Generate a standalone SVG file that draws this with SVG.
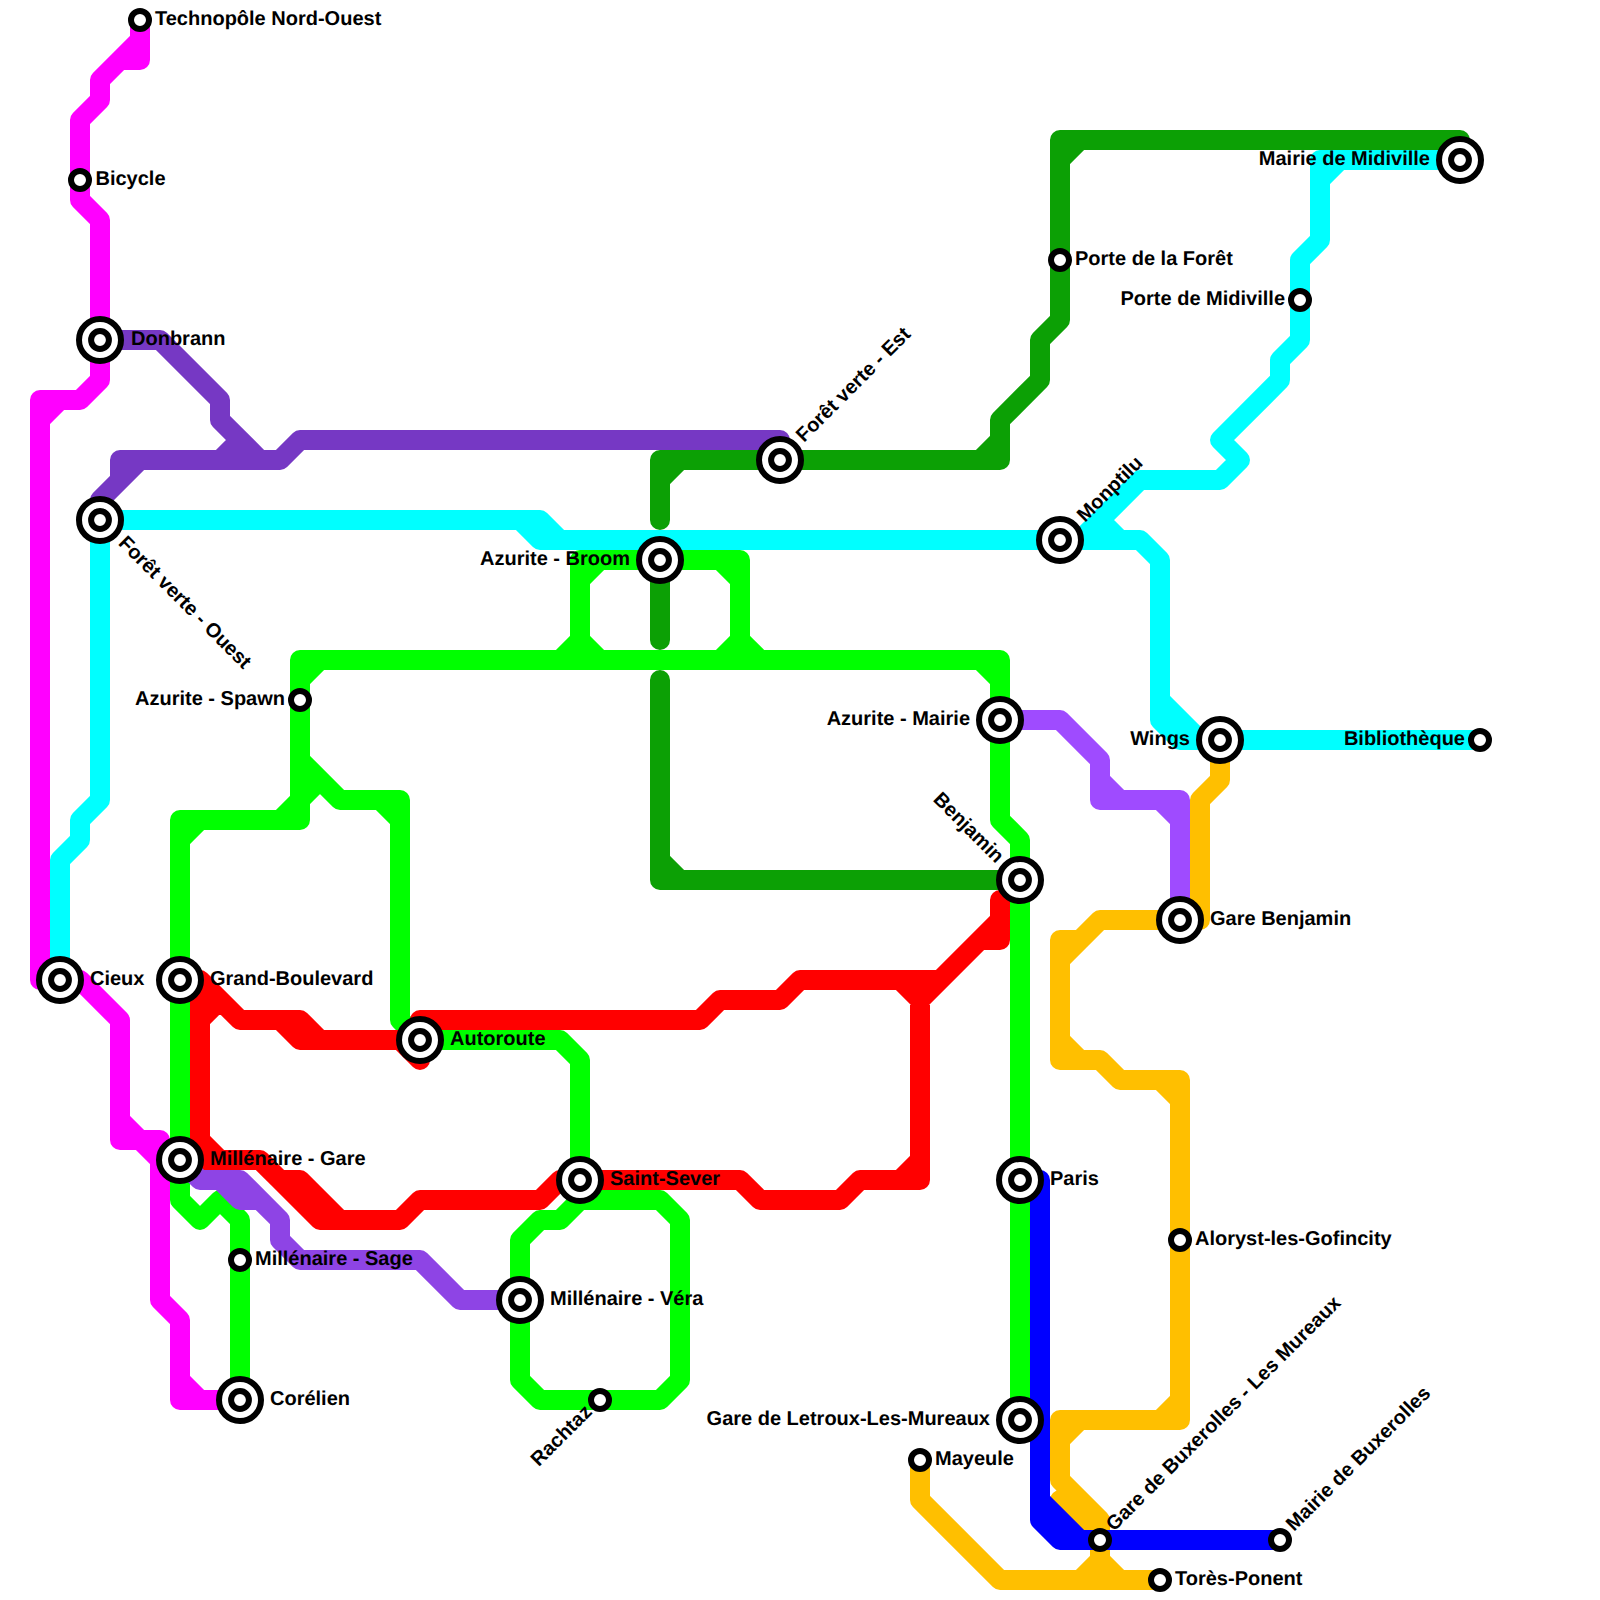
<svg xmlns="http://www.w3.org/2000/svg" width="1600" height="1600" viewBox="0 0 1600 1600">
<style>
.l{fill:none;stroke-width:20;stroke-linecap:round;stroke-linejoin:round}
.o{fill:#fff;stroke:#000;stroke-width:6}
.i{fill:#fff;stroke:#000;stroke-width:6}
text{font-family:"Liberation Sans",Arial,sans-serif;font-weight:bold;font-size:20px;fill:#000;text-rendering:geometricPrecision}
.e{text-anchor:end}
</style>
<defs>
<g id="big"><circle class="o" r="21"/><circle class="i" r="8.9"/></g>
<circle id="small" class="i" r="9"/>
</defs>
<rect width="1600" height="1600" fill="#fff"/>
<g id="connectors">
<path class="l" stroke="#ff00ff" d="M140 20V60H120L100 80V100L80 120V200L100 220V380L80 400H40V980H80L120 1020V1140H160V1300L180 1320V1400H240M140 40L100 80M40 420L60 400M120 1120L160 1160M180 1380L200 1400"/>
<path class="l" stroke="#0ca005" d="M660 520V460H780H1000V420L1040 380V340L1060 320V140H1460V160M660 480L680 460M980 460L1000 440M1060 160L1080 140M660 560V640M660 680V880H1020M660 860L680 880"/>
<path class="l" stroke="#00ffff" d="M100 520H540L560 540H1140L1160 560V720L1180 740H1480M520 520L540 540H560M1160 700L1200 740M1060 540H1080L1140 480H1220L1240 460L1220 440L1280 380V360L1300 340V260L1320 240V160H1460M1100 520L1120 540M1320 180L1340 160M100 520V800L80 820V840L60 860V980"/>
<path class="l" stroke="#00ff00" d="M300 700V660H1000V820L1020 840V1420M300 680L320 660M980 660L1000 680M300 700V820H180V1200L200 1220L220 1200L240 1220V1400M180 840L200 820M280 820L320 780M300 760L340 800H400V1020L420 1040H560L580 1060V1180M380 800L400 820M580 1200H660L680 1220V1380L660 1400H540L520 1380V1240L540 1220H560L580 1200M660 560H580V660M580 580L600 560M580 640L560 660M580 640L600 660M660 560H740V660M720 560L740 580M740 640L720 660M740 640L760 660"/>
<path class="l" stroke="#ff0000" d="M200 980L240 1020H300L320 1040H420M280 1020L300 1040H320M400 1040L420 1060M200 980V1140L220 1160H260L280 1180H300L340 1220H400L420 1200H540L560 1180H740L760 1200H840L860 1180H920V980M200 1160H220M280 1180L320 1220H340M200 1020L220 1000M900 980L920 1000M900 1180L920 1160M420 1020H700L720 1000H780L800 980H940L1000 920M1000 900V940H980L920 1000"/>
<path class="l" stroke="#7638c4" d="M100 340H160L220 400V420L260 460M240 440L220 460M100 520V500L120 480V460H280L300 440H780V460M140 460L100 500"/>
<path class="l" stroke="#8e44e5" d="M180 1160L200 1180H240L280 1220V1240L300 1260H420L460 1300H520M220 1180L240 1200H260L280 1220"/>
<path class="l" stroke="#9f4bff" d="M1000 720H1060L1100 760V800H1180V920M1100 780L1120 800M1160 800L1180 820"/>
<path class="l" stroke="#ffbf00" d="M1220 740V780L1200 800V920H1100L1060 960M1180 920H1100L1080 940H1060V1060H1100L1120 1080H1180V1420H1060V1480L1100 1520V1560L1120 1580M1060 1040L1080 1060M1160 1080L1180 1100M1180 1400L1160 1420M1060 1440L1080 1420M1060 1500L1100 1540M920 1460V1500L1000 1580H1160M1100 1560L1080 1580"/>
<path class="l" stroke="#0000ff" d="M1020 1180H1040V1520L1060 1540H1280M1040 1500L1080 1540"/>
</g>
<g id="n1"><use href="#small" x="140" y="20"/><text x="155" y="24.5">Technopôle Nord-Ouest</text></g>
<g id="n2"><use href="#small" x="80" y="180"/><text x="95.5" y="184.5">Bicycle</text></g>
<g id="n3"><use href="#big" x="100" y="340"/><text x="131" y="344.5">Donbrann</text></g>
<g id="n4"><use href="#big" x="100" y="520"/><text transform="translate(117.5 544) rotate(45)">Forêt verte - Ouest</text></g>
<g id="n5"><use href="#big" x="60" y="980"/><text x="90" y="984.5">Cieux</text></g>
<g id="n6"><use href="#big" x="180" y="980"/><text x="210" y="984.5">Grand-Boulevard</text></g>
<g id="n7"><use href="#big" x="180" y="1160"/><text x="210" y="1164.5">Millénaire - Gare</text></g>
<g id="n8"><use href="#small" x="300" y="700"/><text class="e" x="285" y="704.5">Azurite - Spawn</text></g>
<g id="n9"><use href="#big" x="420" y="1040"/><text x="450" y="1044.5">Autoroute</text></g>
<g id="n10"><use href="#big" x="580" y="1180"/><text x="610" y="1184.5">Saint-Sever</text></g>
<g id="n11"><use href="#big" x="520" y="1300"/><text x="550" y="1304.5">Millénaire - Véra</text></g>
<g id="n12"><use href="#small" x="240" y="1260"/><text x="255" y="1264.5">Millénaire - Sage</text></g>
<g id="n13"><use href="#big" x="240" y="1400"/><text x="270" y="1404.5">Corélien</text></g>
<g id="n14"><use href="#small" x="600" y="1400"/><text class="e" transform="translate(593 1413) rotate(-45)">Rachtaz</text></g>
<g id="n15"><use href="#big" x="660" y="560"/><text class="e" x="630" y="564.5">Azurite - Broom</text></g>
<g id="n16"><use href="#big" x="780" y="460"/><text transform="translate(804 443) rotate(-45)">Forêt verte - Est</text></g>
<g id="n17"><use href="#big" x="1000" y="720"/><text class="e" x="970" y="724.5">Azurite - Mairie</text></g>
<g id="n18"><use href="#big" x="1020" y="880"/><text class="e" transform="translate(996 864) rotate(45)">Benjamin</text></g>
<g id="n19"><use href="#big" x="1060" y="540"/><text transform="translate(1085 523) rotate(-45)">Monptilu</text></g>
<g id="n20"><use href="#small" x="1060" y="260"/><text x="1075" y="264.5">Porte de la Forêt</text></g>
<g id="n21"><use href="#big" x="1460" y="160"/><text class="e" x="1430" y="164.5">Mairie de Midiville</text></g>
<g id="n22"><use href="#small" x="1300" y="300"/><text class="e" x="1285" y="304.5">Porte de Midiville</text></g>
<g id="n23"><use href="#small" x="1480" y="740"/><text class="e" x="1465" y="744.5">Bibliothèque</text></g>
<g id="n24"><use href="#big" x="1220" y="740"/><text class="e" x="1190" y="744.5">Wings</text></g>
<g id="n25"><use href="#big" x="1180" y="920"/><text x="1210" y="924.5">Gare Benjamin</text></g>
<g id="n26"><use href="#small" x="1180" y="1240"/><text x="1195" y="1244.5">Aloryst-les-Gofincity</text></g>
<g id="n27"><use href="#big" x="1020" y="1180"/><text x="1050" y="1184.5">Paris</text></g>
<g id="n28"><use href="#big" x="1020" y="1420"/><text class="e" x="990" y="1424.5">Gare de Letroux-Les-Mureaux</text></g>
<g id="n29"><use href="#small" x="920" y="1460"/><text x="935" y="1464.5">Mayeule</text></g>
<g id="n30"><use href="#small" x="1100" y="1540"/><text transform="translate(1114 1532) rotate(-45)">Gare de Buxerolles - Les Mureaux</text></g>
<g id="n31"><use href="#small" x="1280" y="1540"/><text transform="translate(1294 1532) rotate(-45)">Mairie de Buxerolles</text></g>
<g id="n32"><use href="#small" x="1160" y="1580"/><text x="1175" y="1584.5">Torès-Ponent</text></g>
</svg>
